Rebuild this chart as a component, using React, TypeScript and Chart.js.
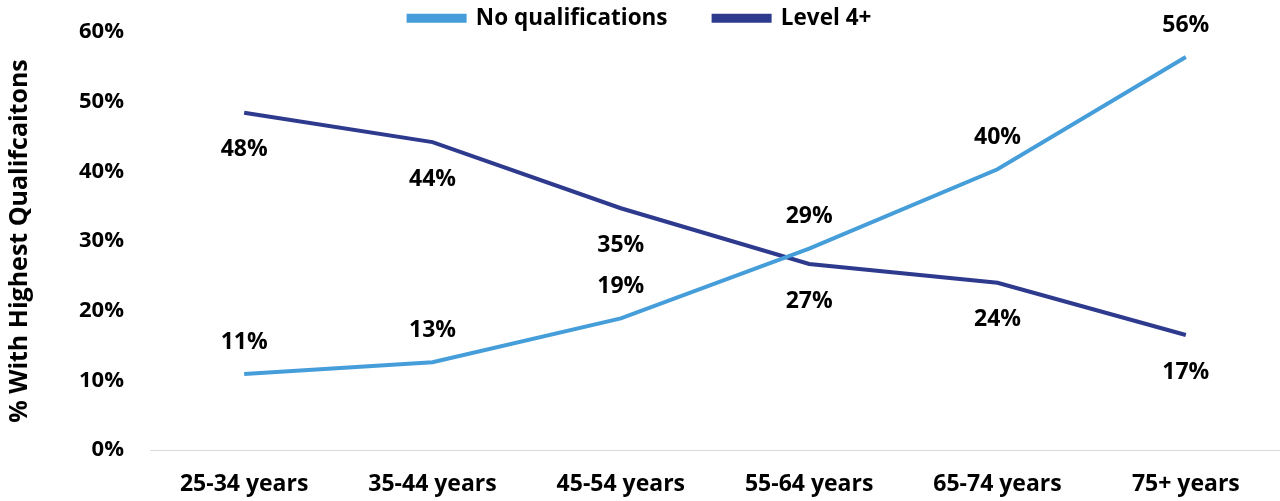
import React, { useEffect, useRef } from "react";
import { Chart, registerables } from "chart.js";

Chart.register(...registerables);

const categories = ["25-34 years", "35-44 years", "45-54 years", "55-64 years", "65-74 years", "75+ years"];
const noQualifications = [10.9, 12.6, 18.9, 28.9, 40.3, 56.4];
const level4Plus = [48.4, 44.2, 34.7, 26.7, 24.0, 16.5];
const yTicks = [0, 10, 20, 30, 40, 50, 60];
const seriesNames = ["No qualifications", "Level 4+"];

const LIGHT = "#459ED9";
const DARK = "#2E3A8E";
const FONT = "'Open Sans', 'DejaVu Sans', sans-serif";

const labelPlugin = {
  id: "pointLabels",
  beforeUpdate(chart: any) {
    const lg = chart.legend;
    if (lg && !lg.__patched) {
      lg.__patched = true;
      const orig = lg.fit;
      lg.fit = function () {
        orig.call(this);
        this.height = 36;
      };
    }
  },
  afterDatasetsDraw(chart: any) {
    const ctx = chart.ctx;
    ctx.save();
    ctx.font = `bold 23px ${FONT}`;
    ctx.fillStyle = "#000";
    ctx.textAlign = "center";
    ctx.textBaseline = "middle";
    chart.data.datasets.forEach((ds: any, di: number) => {
      const meta = chart.getDatasetMeta(di);
      meta.data.forEach((pt: any, i: number) => {
        const v = ds.data[i];
        const above = di === 0;
        const y = above ? pt.y - 32 : pt.y + 37;
        ctx.fillText(Math.round(v) + "%", pt.x, y);
      });
    });
    ctx.restore();
  },
};

export default function App() {
  const ref = useRef<HTMLCanvasElement>(null);
  useEffect(() => {
    if (!ref.current) return;
    const chart = new Chart(ref.current, {
      type: "line",
      data: {
        labels: categories,
        datasets: [
          {
            label: seriesNames[0],
            data: noQualifications,
            borderColor: LIGHT,
            backgroundColor: LIGHT,
            borderWidth: 4,
            pointRadius: 0,
            tension: 0,
          },
          {
            label: seriesNames[1],
            data: level4Plus,
            borderColor: DARK,
            backgroundColor: DARK,
            borderWidth: 4,
            pointRadius: 0,
            tension: 0,
          },
        ],
      },
      options: {
        responsive: false,
        animation: false,
        layout: { padding: { left: 0, right: 0, top: -4, bottom: 0 } },
        plugins: {
          legend: {
            position: "top",
            labels: {
              boxWidth: 56,
              boxHeight: 5,
              color: "#000",
              font: { family: FONT, size: 22.5, weight: "bold" },
              padding: 11,
              generateLabels(chart: any) {
                const items = Chart.defaults.plugins.legend.labels.generateLabels(chart);
                items.forEach((it: any, i: number) => {
                  if (i < items.length - 1) it.text = it.text + "\u00a0\u00a0\u00a0\u00a0\u00a0\u00a0";
                });
                return items;
              },
            },
          },
          tooltip: { enabled: false },
        },
        scales: {
          x: {
            offset: true,
            grid: { display: false, drawTicks: false },
            border: { display: true, color: "#D9D9D9", width: 1 },
            afterFit(scale: any) {
              scale.height = 51;
            },
            ticks: {
              color: "#000",
              font: { family: FONT, size: 23, weight: "bold" },
              padding: 21,
              maxRotation: 0,
            },
          },
          y: {
            min: 0,
            max: 60,
            afterBuildTicks(axis: any) {
              axis.ticks = yTicks.map((v) => ({ value: v }));
            },
            afterFit(scale: any) {
              scale.width = 150;
              scale.paddingTop = 0;
              scale.paddingBottom = 0;
            },
            grid: { display: false, drawTicks: false },
            border: { display: false },
            ticks: {
              color: "#000",
              font: { family: FONT, size: 22, weight: "bold" },
              padding: 26,
              callback: (v: any) => v + "%",
            },
            title: {
              display: true,
              text: "% With Highest Qualifcaitons",
              color: "#000",
              font: { family: FONT, size: 25, weight: "bold" },
              padding: { top: 5, bottom: 10 },
            },
          },
        },
      },
      plugins: [labelPlugin],
    } as any);
    return () => chart.destroy();
  }, []);
  return (
    <div style={{ position: "absolute", left: 0, top: 0, width: 1280, height: 501, background: "#fff" }}>
      <canvas ref={ref} width={1280} height={501} style={{ display: "block" }} />
    </div>
  );
}
